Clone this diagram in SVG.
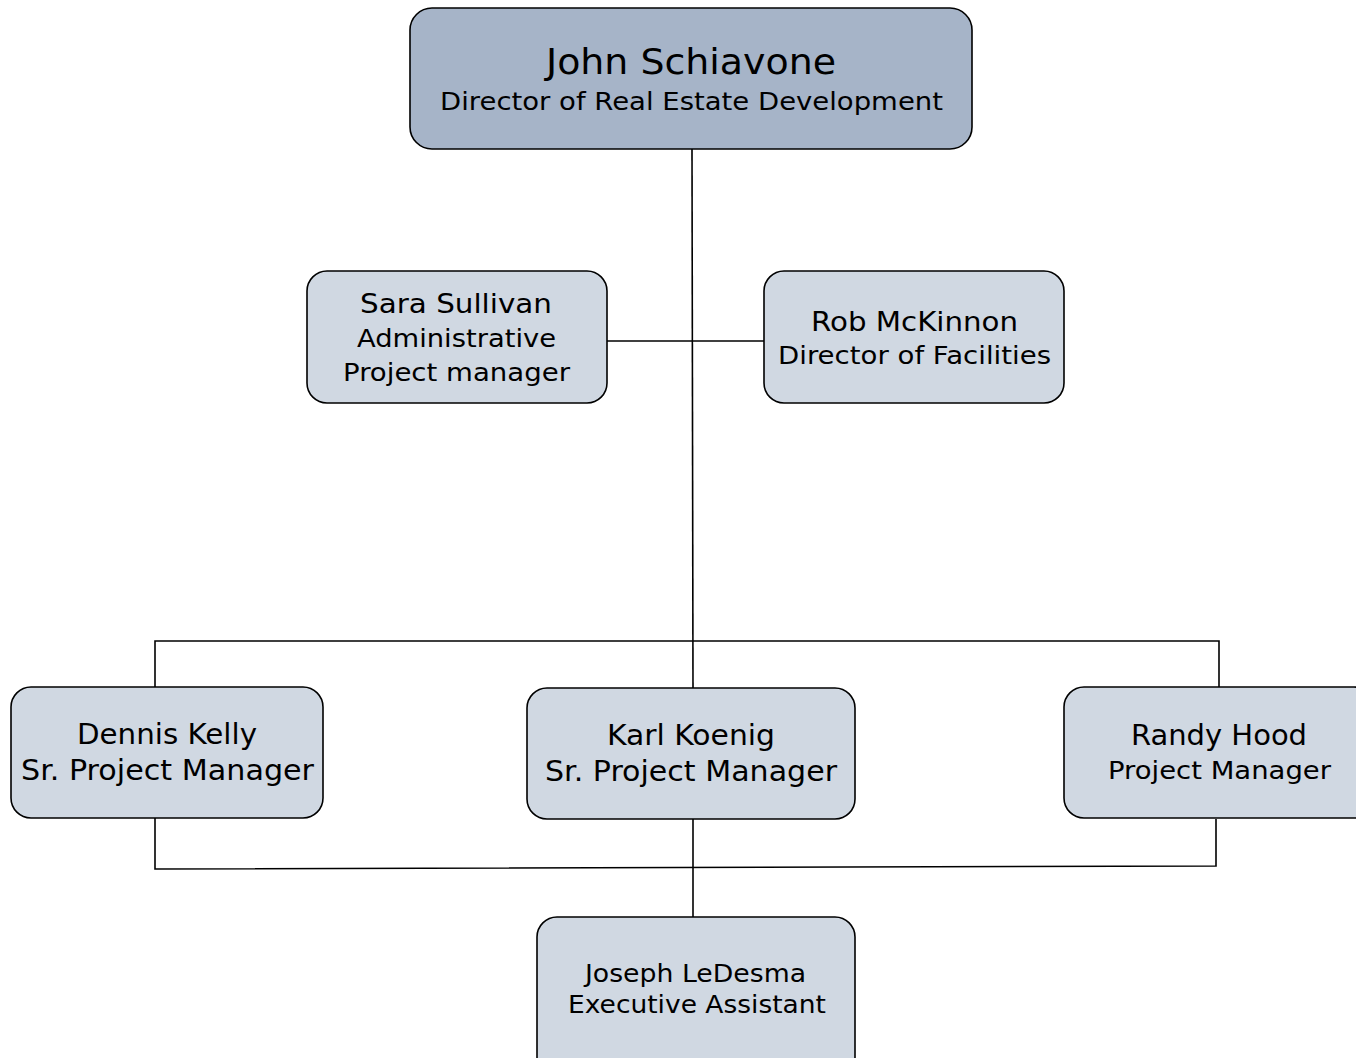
<svg xmlns="http://www.w3.org/2000/svg" width="1356" height="1058" viewBox="0 0 1356 1058">
<style>
.box{stroke:#000;stroke-width:1.6}
.top{fill:#a6b4c8}
.sub{fill:#d0d8e2}
text{font-family:"DejaVu Sans",Verdana,sans-serif;fill:#000;text-anchor:middle}
.c{stroke:#000;stroke-width:1.6;fill:none}
</style>
<rect width="1356" height="1058" fill="#fff"/>
<g id="connectors">
<line class="c" x1="692" y1="149" x2="693" y2="688"/>
<line class="c" x1="607" y1="341" x2="764" y2="341"/>
<polyline class="c" points="155,687 155,641 1219,641 1219,687"/>
<polyline class="c" points="155,818 155,869 1216,866 1216,819"/>
<line class="c" x1="693" y1="819" x2="693" y2="917"/>
</g>
<g id="john">
<rect class="box top" x="410" y="8" width="562" height="141" rx="22"/>
<text x="691" y="74" font-size="35" textLength="290" lengthAdjust="spacingAndGlyphs">John Schiavone</text>
<text x="691.5" y="110" font-size="25.5" textLength="503" lengthAdjust="spacingAndGlyphs">Director of Real Estate Development</text>
</g>
<g id="sara">
<rect class="box sub" x="307" y="271" width="300" height="132" rx="20"/>
<text x="456" y="313" font-size="27" textLength="192" lengthAdjust="spacingAndGlyphs">Sara Sullivan</text>
<text x="456.5" y="347" font-size="25.5" textLength="199" lengthAdjust="spacingAndGlyphs">Administrative</text>
<text x="456.5" y="381" font-size="25.5" textLength="227" lengthAdjust="spacingAndGlyphs">Project manager</text>
</g>
<g id="rob">
<rect class="box sub" x="764" y="271" width="300" height="132" rx="20"/>
<text x="914.5" y="331" font-size="27" textLength="207" lengthAdjust="spacingAndGlyphs">Rob McKinnon</text>
<text x="914.5" y="364" font-size="25.5" textLength="273" lengthAdjust="spacingAndGlyphs">Director of Facilities</text>
</g>
<g id="dennis">
<rect class="box sub" x="11" y="687" width="312" height="131" rx="20"/>
<text x="167" y="744" font-size="27.5" textLength="180" lengthAdjust="spacingAndGlyphs">Dennis Kelly</text>
<text x="167.5" y="780" font-size="27.5" textLength="293" lengthAdjust="spacingAndGlyphs">Sr. Project Manager</text>
</g>
<g id="karl">
<rect class="box sub" x="527" y="688" width="328" height="131" rx="20"/>
<text x="691" y="745" font-size="27.5" textLength="168" lengthAdjust="spacingAndGlyphs">Karl Koenig</text>
<text x="691" y="781" font-size="27.5" textLength="292" lengthAdjust="spacingAndGlyphs">Sr. Project Manager</text>
</g>
<g id="randy">
<rect class="box sub" x="1064" y="687" width="310" height="131" rx="20"/>
<text x="1219" y="745" font-size="27.5" textLength="176" lengthAdjust="spacingAndGlyphs">Randy Hood</text>
<text x="1219.5" y="779" font-size="25.5" textLength="223" lengthAdjust="spacingAndGlyphs">Project Manager</text>
</g>
<g id="joseph">
<rect class="box sub" x="537" y="917" width="318" height="160" rx="20"/>
<text x="695.5" y="982" font-size="24.5" textLength="221" lengthAdjust="spacingAndGlyphs">Joseph LeDesma</text>
<text x="697" y="1013" font-size="24.5" textLength="258" lengthAdjust="spacingAndGlyphs">Executive Assistant</text>
</g>
</svg>
